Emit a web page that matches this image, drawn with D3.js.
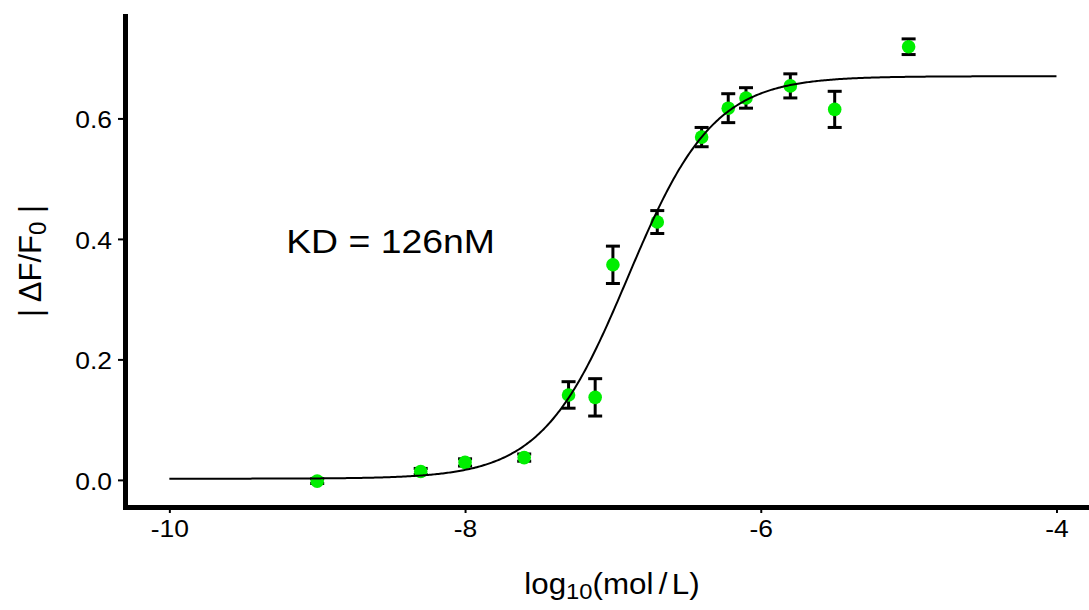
<!DOCTYPE html>
<html>
<head>
<meta charset="utf-8">
<script src="https://cdn.jsdelivr.net/npm/d3@7"></script>
<style>
  body { margin: 0; background: #fff; }
  text { font-family: "Liberation Sans", Arial, sans-serif; fill: #000; }
</style>
</head>
<body>
<svg id="chart" width="1089" height="610"></svg>
<script>
// Binding measurements: log10 concentration (mol/L), mean |ΔF/F0| and SD
const logConc  = [-9, -8.3, -8, -7.6, -7.3, -7.12, -7, -6.7, -6.4, -6.22, -6.1, -5.8, -5.5, -5];
const response = [-0.002, 0.014, 0.029, 0.037, 0.141, 0.137, 0.357, 0.428, 0.569, 0.617, 0.634, 0.654, 0.615, 0.719];
const errorSD  = [0.004, 0.005, 0.006, 0.006, 0.022, 0.031, 0.031, 0.019, 0.016, 0.024, 0.017, 0.020, 0.030, 0.013];

const xTicks = [-10, -8, -6, -4];
const yTicks = [0, 0.2, 0.4, 0.6];

// Fitted dose-response model
const KD_nM = 126;
const fitBottom = 0.002;
const fitTop = 0.670;
const hillSlope = 1.5;
const fitRange = [-10, -4];

const svg = d3.select("#chart");
const stretch = 1.15;   // horizontal glyph widening used for tick labels and annotation

const x = d3.scaleLinear().domain([-10.3, -3.78]).range([125, 1089]);
const y = d3.scaleLinear().domain([-0.045, 0.77]).range([507, 16]);

// Axes
const xAxis = svg.append("g")
  .attr("transform", `translate(0,${y.range()[0]})`)
  .call(d3.axisBottom(x).tickValues(xTicks).tickFormat(d => String(d)).tickSize(6).tickSizeOuter(0));
const yAxis = svg.append("g")
  .attr("transform", `translate(${x.range()[0]},0)`)
  .call(d3.axisLeft(y).tickValues(yTicks).tickFormat(d => d.toFixed(1)).tickSize(7).tickSizeOuter(0));

[xAxis, yAxis].forEach(g => {
  g.select(".domain").attr("stroke", "#000").attr("stroke-width", 5).attr("stroke-linecap", "square");
  g.selectAll(".tick line").attr("stroke", "#000").attr("stroke-width", 2);
  g.selectAll(".tick text").attr("font-size", 23).attr("font-family", null).attr("fill", "#000");
});
xAxis.selectAll(".tick text")
  .attr("y", 14).attr("dy", "0.71em").attr("x", 0)
  .attr("transform", `scale(${stretch},1)`);
yAxis.selectAll(".tick text")
  .attr("x", 0).attr("dy", "0.4em")
  .attr("transform", `translate(-13,0) scale(${stretch},1)`);

// Error bars (behind points)
const capHalf = 7;
const bars = svg.append("g").attr("stroke", "#000").attr("stroke-width", 3);
logConc.forEach((lx, i) => {
  const lo = y(response[i] - errorSD[i]), hi = y(response[i] + errorSD[i]), cx = x(lx);
  bars.append("line").attr("x1", cx).attr("x2", cx).attr("y1", lo).attr("y2", hi);
  bars.append("line").attr("x1", cx - capHalf).attr("x2", cx + capHalf).attr("y1", lo).attr("y2", lo);
  bars.append("line").attr("x1", cx - capHalf).attr("x2", cx + capHalf).attr("y1", hi).attr("y2", hi);
});

// Points
svg.append("g").selectAll("circle")
  .data(logConc)
  .join("circle")
  .attr("cx", d => x(d))
  .attr("cy", (d, i) => y(response[i]))
  .attr("r", 6.8)
  .attr("fill", "#00ee00");

// Fitted curve from the reported KD
const logKD = Math.log10(KD_nM * 1e-9);
const model = lx => fitBottom + (fitTop - fitBottom) / (1 + Math.pow(10, hillSlope * (logKD - lx)));
const curveX = d3.range(fitRange[0], fitRange[1] + 1e-9, 0.01);
svg.append("path")
  .datum(curveX)
  .attr("fill", "none")
  .attr("stroke", "#000")
  .attr("stroke-width", 2)
  .attr("d", d3.line().x(d => x(d)).y(d => y(model(d))));

// KD annotation
svg.append("text")
  .attr("transform", `translate(${x(-9.21)},${y(0.377)}) scale(${stretch},1)`)
  .attr("font-size", 32.5)
  .text(`KD = ${KD_nM}nM`);

// X axis title: log10(mol/L)
const xt = svg.append("text")
  .attr("text-anchor", "middle")
  .attr("font-size", 29)
  .attr("transform", `translate(612,594) scale(1.08,1)`);
xt.append("tspan").text("log");
xt.append("tspan").attr("font-size", 22).attr("dy", 5).text("10");
xt.append("tspan").attr("dy", -5).text("(mol");
xt.append("tspan").attr("dx", 5).text("/");
xt.append("tspan").attr("dx", 4).text("L)");

// Y axis title: |ΔF/F0|
const yt = svg.append("text")
  .attr("text-anchor", "middle")
  .attr("font-size", 31)
  .attr("transform", `translate(41,261) rotate(-90)`);
yt.append("tspan").text("| ΔF/F");
yt.append("tspan").attr("font-size", 24).attr("dy", 5).text("0");
yt.append("tspan").attr("dy", -5).text(" |");
</script>
</body>
</html>
